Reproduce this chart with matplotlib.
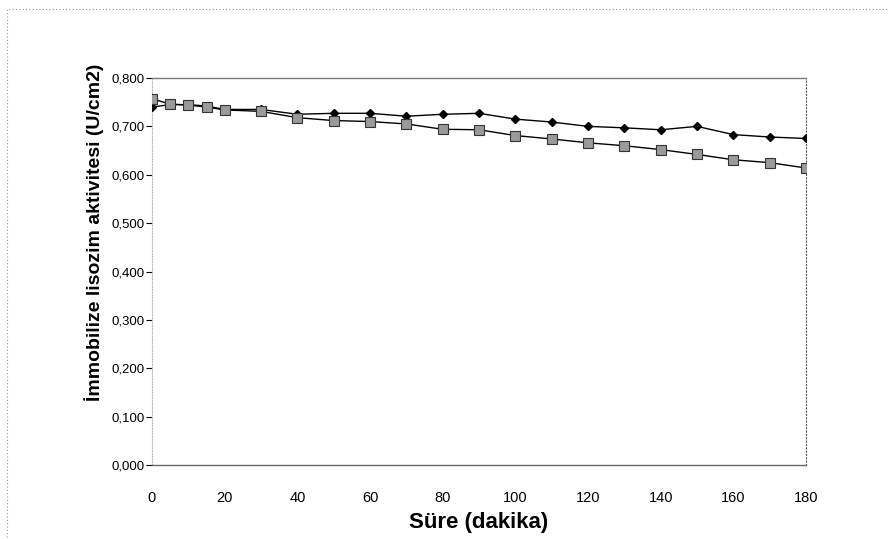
import matplotlib.pyplot as plt
from matplotlib.ticker import FuncFormatter
from matplotlib.patches import Rectangle

plt.rcParams['font.family'] = ['Liberation Sans', 'DejaVu Sans']

# sure (dakika)
sure = [0, 5, 10, 15, 20, 30, 40, 50, 60, 70, 80, 90, 100, 110, 120, 130, 140, 150, 160, 170, 180]
# immobilize lisozim aktivitesi (U/cm2)
seri1 = [0.740, 0.745, 0.745, 0.742, 0.735, 0.735, 0.725, 0.727, 0.727, 0.721, 0.725, 0.727,
         0.715, 0.709, 0.700, 0.697, 0.693, 0.700, 0.683, 0.678, 0.675]
seri2 = [0.757, 0.746, 0.744, 0.740, 0.734, 0.731, 0.718, 0.712, 0.710, 0.705, 0.694, 0.693,
         0.681, 0.674, 0.666, 0.660, 0.652, 0.642, 0.631, 0.625, 0.614]

xticks = [0, 20, 40, 60, 80, 100, 120, 140, 160, 180]
yticks = [0.0, 0.1, 0.2, 0.3, 0.4, 0.5, 0.6, 0.7, 0.8]

fig = plt.figure(figsize=(8.89, 5.39), dpi=100)
ax = fig.add_axes([152 / 889, 1 - 465 / 539, 654 / 889, 387 / 539])

# outer chart border
fig.patches.append(Rectangle((0.008, -0.01), 1.0, 1.0 - 0.008 + 0.002, transform=fig.transFigure,
                             fill=False, edgecolor='#999999', lw=0.8, linestyle=(0, (1, 2))))

ax.plot(sure, seri1, color='black', lw=1.0, marker='D', markersize=4.5,
        markerfacecolor='black', markeredgecolor='black', zorder=3)
ax.plot(sure, seri2, color='black', lw=1.0, marker='s', markersize=7,
        markerfacecolor='#9a9a9a', markeredgecolor='#333333', markeredgewidth=0.8, zorder=4)

ax.set_xlim(0, 180)
ax.set_ylim(0, 0.8)
ax.set_xticks(xticks)
ax.set_yticks(yticks)
ax.yaxis.set_major_formatter(FuncFormatter(lambda v, p: ('%.3f' % v).replace('.', ',')))

ax.tick_params(axis='y', direction='out', length=4, width=0.8, labelsize=9.5, pad=1.5)
ax.tick_params(axis='x', direction='in', length=0, labelsize=10.5, pad=19)

ax.spines['top'].set_color('#777777')
ax.spines['top'].set_linewidth(1.0)
ax.spines['right'].set_color('#555555')
ax.spines['right'].set_linestyle((0, (1, 2)))
ax.spines['right'].set_linewidth(0.8)
ax.spines['left'].set_color('#bbbbbb')
ax.spines['left'].set_linestyle((0, (1, 1.5)))
ax.spines['left'].set_linewidth(0.8)
ax.spines['bottom'].set_color('#666666')
ax.spines['bottom'].set_linewidth(1.0)

ax.set_xlabel('Süre (dakika)', fontsize=16, fontweight='bold', labelpad=5)
ax.set_ylabel('İmmobilize lisozim aktivitesi (U/cm2)', fontsize=14, fontweight='bold')
ax.yaxis.set_label_coords(-0.074, 0.60)

fig.savefig('out.png', dpi=100)
